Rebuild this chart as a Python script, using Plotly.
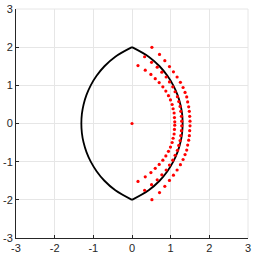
import plotly.graph_objects as go

# Lens outline (right arc, top to bottom)
lens_right_x = [0.0, 0.431, 0.713, 0.916, 1.067, 1.177, 1.252, 1.296, 1.31,
                1.296, 1.252, 1.177, 1.067, 0.916, 0.713, 0.431, 0.0]
lens_right_y = [2.0, 1.75, 1.5, 1.25, 1.0, 0.75, 0.5, 0.25, 0.0,
                -0.25, -0.5, -0.75, -1.0, -1.25, -1.5, -1.75, -2.0]
lens_left_x = [0.0, -0.431, -0.713, -0.916, -1.067, -1.177, -1.252, -1.296, -1.31,
               -1.296, -1.252, -1.177, -1.067, -0.916, -0.713, -0.431, 0.0]
lens_left_y = [2.0, 1.75, 1.5, 1.25, 1.0, 0.75, 0.5, 0.25, 0.0,
               -0.25, -0.5, -0.75, -1.0, -1.25, -1.5, -1.75, -2.0]

# Red points: outer, middle, inner arcs
outer_x = [0.515, 0.712, 0.849, 0.969, 1.072, 1.166, 1.252, 1.321, 1.372, 1.415,
           1.440, 1.466, 1.483, 1.492, 1.500,
           1.500, 1.492, 1.483, 1.466, 1.440, 1.415, 1.372, 1.321, 1.252, 1.166,
           1.072, 0.969, 0.849, 0.712, 0.515]
outer_y = [1.997, 1.809, 1.646, 1.492, 1.355, 1.218, 1.080, 0.943, 0.815, 0.695,
           0.566, 0.438, 0.318, 0.189, 0.061,
           -0.061, -0.189, -0.318, -0.438, -0.566, -0.695, -0.815, -0.943, -1.080, -1.218,
           -1.355, -1.492, -1.646, -1.809, -1.997]

middle_x = [0.326, 0.506, 0.652, 0.772, 0.884, 0.969, 1.055, 1.115, 1.175, 1.209,
            1.244, 1.261, 1.278, 1.286,
            1.286, 1.278, 1.261, 1.244, 1.209, 1.175, 1.115, 1.055, 0.969, 0.884,
            0.772, 0.652, 0.506, 0.326]
middle_y = [1.749, 1.603, 1.475, 1.346, 1.218, 1.089, 0.961, 0.832, 0.704, 0.575,
            0.447, 0.318, 0.189, 0.061,
            -0.061, -0.189, -0.318, -0.447, -0.575, -0.704, -0.832, -0.961, -1.089, -1.218,
            -1.346, -1.475, -1.603, -1.749]

inner_x = [0.155, 0.343, 0.489, 0.601, 0.703, 0.798, 0.875, 0.943, 0.995, 1.038,
           1.063, 1.089, 1.098, 1.106,
           1.106, 1.098, 1.089, 1.063, 1.038, 0.995, 0.943, 0.875, 0.798, 0.703,
           0.601, 0.489, 0.343, 0.155]
inner_y = [1.517, 1.398, 1.286, 1.175, 1.072, 0.961, 0.849, 0.729, 0.618, 0.498,
           0.386, 0.275, 0.155, 0.044,
           -0.044, -0.155, -0.275, -0.386, -0.498, -0.618, -0.729, -0.849, -0.961, -1.072,
           -1.175, -1.286, -1.398, -1.517]

center_x = [0.0]
center_y = [0.0]

tick_vals = [-3, -2, -1, 0, 1, 2, 3]
tick_text = ["-3", "-2", "-1", "0", "1", "2", "3"]

fig = go.Figure()
for xs, ys in [(lens_right_x, lens_right_y), (lens_left_x, lens_left_y)]:
    fig.add_trace(go.Scatter(x=xs, y=ys, mode="lines",
                             line=dict(color="black", width=1.8, shape="spline"),
                             hoverinfo="skip"))
for xs, ys in [(outer_x, outer_y), (middle_x, middle_y), (inner_x, inner_y),
               (center_x, center_y)]:
    fig.add_trace(go.Scatter(x=xs, y=ys, mode="markers",
                             marker=dict(color="#ff0000", size=3.2, line=dict(width=0))))

axis_common = dict(
    range=[-3, 3], tickvals=tick_vals, ticktext=tick_text,
    showgrid=True, gridcolor="#e6e6e6", gridwidth=1,
    zeroline=False, showline=True, linecolor="#262626", linewidth=1,
    ticks="inside", ticklen=3, tickcolor="#262626",
    tickfont=dict(family="Liberation Sans, Arial, sans-serif", size=11, color="#262626"),
    ticklabeloverflow="allow",
    mirror=False, fixedrange=True,
)

fig.update_layout(
    width=254, height=258,
    margin=dict(l=16, r=3, t=5, b=20),
    paper_bgcolor="white", plot_bgcolor="white",
    showlegend=False,
    xaxis=dict(**axis_common),
    yaxis=dict(**axis_common),
    shapes=[
        dict(type="line", xref="paper", yref="paper", x0=1, x1=1, y0=0, y1=1,
             line=dict(color="#e6e6e6", width=1), layer="below"),
        dict(type="line", xref="paper", yref="paper", x0=0, x1=1, y0=1, y1=1,
             line=dict(color="#e6e6e6", width=1), layer="below"),
    ],
)

fig.write_html("out.html", config={"displayModeBar": False},
               post_script="document.body.style.margin='0';document.body.style.overflow='hidden';")
